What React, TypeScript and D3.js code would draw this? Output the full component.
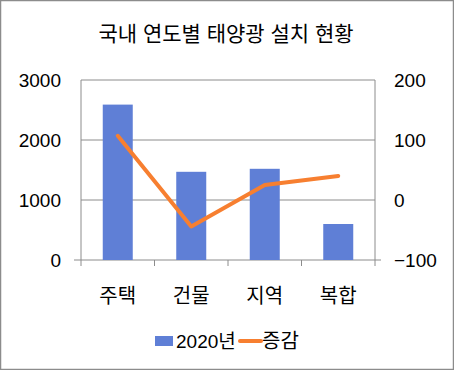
import * as React from 'react';
import * as d3 from 'd3';

const categories = ['주택', '건물', '지역', '복합'];
const installed2020 = [2590, 1470, 1520, 600];
const change = [107, -44, 25, 40];
const leftTicks = [0, 1000, 2000, 3000];
const rightTicks = [-100, 0, 100, 200];

const W = 454;
const H = 370;
const margin = { top: 80, right: 79, bottom: 110, left: 81 };
const FONT = '"Liberation Sans", "Noto Sans CJK KR", sans-serif';
const GRID = '#8c8c8c';
const BLUE = '#5f7fd6';
const ORANGE = '#f77f30';
const INK = '#000';

export default function App() {
  const ref = React.useRef<SVGSVGElement>(null);

  React.useEffect(() => {
    document.body.style.margin = '0';
    const svg = d3.select(ref.current);
    svg.selectAll('*').remove();

    const x0 = margin.left;
    const x1 = W - margin.right;
    const y0 = H - margin.bottom;
    const y1 = margin.top;

    const x = d3.scaleBand<string>().domain(categories).range([x0, x1]);
    const yL = d3.scaleLinear().domain([0, 3000]).range([y0, y1]);
    const yR = d3.scaleLinear().domain([-100, 200]).range([y0, y1]);

    // outer border
    svg.append('rect')
      .attr('x', 0.5).attr('y', 0.5)
      .attr('width', W - 1).attr('height', H - 1)
      .attr('fill', '#fff').attr('stroke', GRID).attr('stroke-width', 1.5);

    svg.append('text')
      .attr('x', 226).attr('y', 41)
      .attr('text-anchor', 'middle')
      .style('font-family', FONT).style('font-size', '21px')
      .attr('fill', INK)
      .text('국내 연도별 태양광 설치 현황');

    // gridlines
    svg.selectAll('line.grid')
      .data(leftTicks.filter((t) => t > 0))
      .enter().append('line')
      .attr('x1', x0).attr('x2', x1)
      .attr('y1', (d) => yL(d)).attr('y2', (d) => yL(d))
      .attr('stroke', GRID).attr('stroke-width', 1);

    // axes frame
    svg.append('line').attr('x1', x0 - 7).attr('x2', x1 + 6)
      .attr('y1', y0).attr('y2', y0).attr('stroke', GRID);
    svg.append('line').attr('x1', x0).attr('x2', x0)
      .attr('y1', y1).attr('y2', y0 + 6).attr('stroke', GRID);
    svg.append('line').attr('x1', x1).attr('x2', x1)
      .attr('y1', y1).attr('y2', y0 + 6).attr('stroke', GRID);
    svg.selectAll('line.xtick')
      .data(categories.slice(1))
      .enter().append('line')
      .attr('x1', (d) => x(d)!).attr('x2', (d) => x(d)!)
      .attr('y1', y0).attr('y2', y0 + 6)
      .attr('stroke', GRID);

    // bars
    const barW = 30;
    svg.selectAll('rect.bar')
      .data(installed2020)
      .enter().append('rect')
      .attr('x', (_d, i) => x(categories[i])! + x.bandwidth() / 2 - barW / 2)
      .attr('y', (d) => yL(d))
      .attr('width', barW)
      .attr('height', (d) => yL(0) - yL(d))
      .attr('fill', BLUE);

    // line
    const line = d3.line<number>()
      .x((_d, i) => x(categories[i])! + x.bandwidth() / 2)
      .y((d) => yR(d));
    svg.append('path')
      .attr('d', line(change))
      .attr('fill', 'none')
      .attr('stroke', ORANGE)
      .attr('stroke-width', 4)
      .attr('stroke-linecap', 'round')
      .attr('stroke-linejoin', 'round');

    // tick labels
    svg.selectAll('text.yl')
      .data(leftTicks)
      .enter().append('text')
      .attr('x', 61).attr('y', (d) => yL(d))
      .attr('dy', '0.35em')
      .attr('text-anchor', 'end')
      .style('font-family', FONT).style('font-size', '19px')
      .attr('fill', INK)
      .text((d) => d);

    svg.selectAll('text.yr')
      .data(rightTicks)
      .enter().append('text')
      .attr('x', 394).attr('y', (d) => yR(d))
      .attr('dy', '0.35em')
      .attr('text-anchor', 'start')
      .style('font-family', FONT).style('font-size', '19px')
      .attr('fill', INK)
      .text((d) => (d < 0 ? '−' + Math.abs(d) : d));

    svg.selectAll('text.xl')
      .data(categories)
      .enter().append('text')
      .attr('x', (d) => x(d)! + x.bandwidth() / 2)
      .attr('y', 296)
      .attr('dy', '0.35em')
      .attr('text-anchor', 'middle')
      .style('font-family', FONT).style('font-size', '20px')
      .attr('fill', INK)
      .text((d) => d);

    // legend
    const ly = 341;
    svg.append('rect').attr('x', 155).attr('y', ly - 5)
      .attr('width', 18).attr('height', 10).attr('fill', BLUE);
    svg.append('text').attr('x', 176).attr('y', ly).attr('dy', '0.35em')
      .style('font-family', FONT).style('font-size', '19px').attr('fill', INK)
      .text('2020년');
    svg.append('line').attr('x1', 240).attr('x2', 261)
      .attr('y1', ly).attr('y2', ly)
      .attr('stroke', ORANGE).attr('stroke-width', 4).attr('stroke-linecap', 'round');
    svg.append('text').attr('x', 262).attr('y', ly).attr('dy', '0.35em')
      .style('font-family', FONT).style('font-size', '20px').attr('fill', INK)
      .text('증감');
  }, []);

  return <svg ref={ref} width={W} height={H} style={{ display: 'block' }} />;
}
